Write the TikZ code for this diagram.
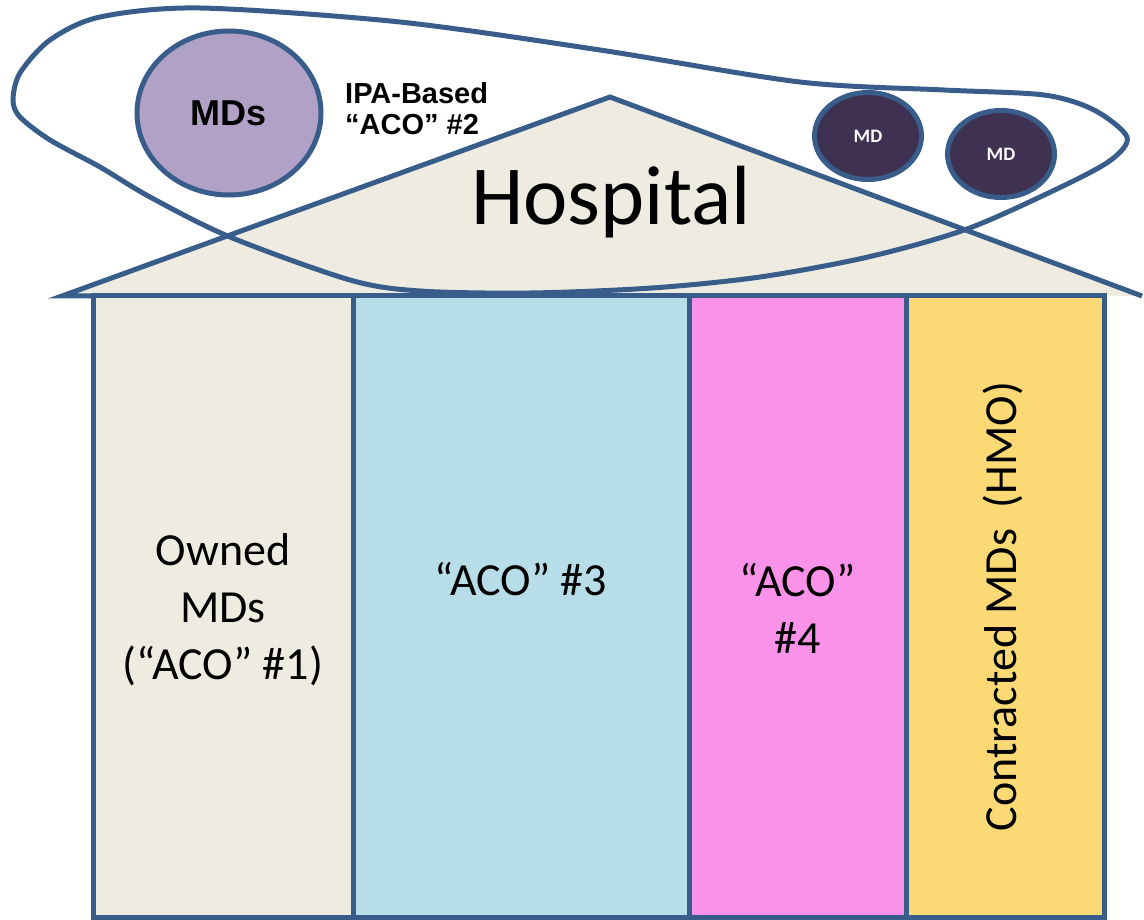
\documentclass[tikz,border=0pt]{standalone}
\usepackage{fontspec}
\setmainfont{Carlito}
\newfontfamily\arialfont{Liberation Sans}
\usetikzlibrary{shapes, positioning}

\definecolor{edge}{HTML}{385D8A}
\definecolor{tan}{HTML}{EEECE1}
\definecolor{aqua}{HTML}{B7DEE8}
\definecolor{pinkish}{HTML}{FA92EA}
\definecolor{gold}{HTML}{FBD974}
\definecolor{lavender}{HTML}{B2A1C7}
\definecolor{plum}{HTML}{3F3151}

\begin{document}
\begin{tikzpicture}[x=1pt,y=-1pt,
wall/.style={rectangle,draw=edge,line width=5pt,minimum height=621pt,inner sep=0pt,outer sep=0pt},
md/.style={ellipse,draw=edge,line width=5pt,fill=plum,minimum width=107pt,minimum height=87pt,text=white,font=\bfseries\fontsize{19}{19}\selectfont},
txt/.style={align=center,font=\fontsize{46}{57}\selectfont}]
\useasboundingbox (0,0) rectangle (1144,920);

% roof
\draw[draw=edge,fill=tan,line width=5pt,line join=miter] (93,296) -- (62,296) -- (610,97) -- (1142,296);
\node[anchor=base,font=\fontsize{84}{84}\selectfont] (hosp) at (611,225) {Hospital};

% IPA loop
\draw[edge,line width=5pt] plot[smooth cycle] coordinates {
(13,100) (20,73) (50,40) (100,17) (200,8) (400,22) (600,50) (800,82)
(944,90) (1044,95) (1094,110) (1127,137) (1111,160) (1061,187) (967,229)
(868,257) (760,277) (652,288) (530,293) (420,291) (350,280) (230,237)
(150,197) (100,167) (50,140) (20,117)};

\node[ellipse,draw=edge,line width=5pt,fill=lavender,minimum width=184pt,minimum height=164pt,
font=\arialfont\bfseries\fontsize{36}{36}\selectfont] (mds) at (229,113) {MDs};
\node[anchor=north west,align=left,inner sep=0pt,font=\arialfont\bfseries\fontsize{29}{31}\selectfont] (ipa) at (345,82) {IPA-Based\\“ACO” \#2};
\node[md] (mda) at (868,136) {MD};
\node[md] (mdb) at (1001,154) {MD};

% columns
\node[wall,fill=tan,minimum width=260pt] (own) at (223,606.5) {};
\node[wall,fill=aqua,minimum width=336pt,right=0pt of own] (aco3) {};
\node[wall,fill=pinkish,minimum width=217pt,right=0pt of aco3] (aco4) {};
\node[wall,fill=gold,minimum width=198pt,right=0pt of aco4] (hmo) {};

\node[txt] at ([yshift=-3pt]own.center) {Owned\\MDs\\(“ACO” \#1)};
\node[txt] at ([yshift=27pt]aco3.center) {“ACO” \#3};
\node[txt] at ([yshift=-2pt]aco4.center) {“ACO”\\\#4};
\node[txt,rotate=90] at ([xshift=-2pt]hmo.center) {Contracted MDs\ \ (HMO)};
\end{tikzpicture}
\end{document}
